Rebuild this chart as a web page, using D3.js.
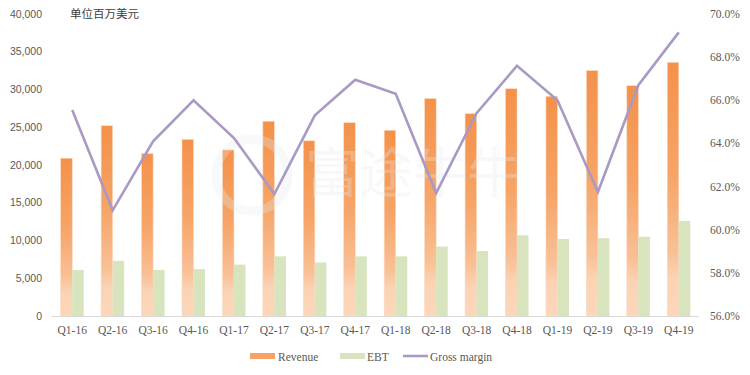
<!DOCTYPE html>
<html><head><meta charset="utf-8">
<script src="https://cdn.jsdelivr.net/npm/d3@7"></script>
<style>body{margin:0;background:#fff}svg{display:block}</style>
</head><body><svg id="c" width="750" height="375"></svg>
<script>
const categories = ["Q1-16","Q2-16","Q3-16","Q4-16","Q1-17","Q2-17","Q3-17","Q4-17","Q1-18","Q2-18","Q3-18","Q4-18","Q1-19","Q2-19","Q3-19","Q4-19"];
const revenue = [20900,25200,21500,23400,22000,25800,23200,25600,24600,28800,26800,30100,29100,32500,30500,33600];
const ebt = [6100,7300,6100,6200,6800,7900,7100,7900,7900,9200,8600,10700,10200,10300,10500,12600];
const grossMargin = [0.6555,0.609,0.641,0.660,0.6425,0.6165,0.653,0.6695,0.663,0.617,0.654,0.676,0.660,0.6175,0.667,0.6915];
const leftTicks = [0,5000,10000,15000,20000,25000,30000,35000,40000];
const rightTicks = [0.56,0.58,0.60,0.62,0.64,0.66,0.68,0.70];
const seriesNames = ["Revenue","EBT","Gross margin"];
const unitLabel = "单位百万美元";

const svg = d3.select("#c");
const L = 52, R = 699, T = 14, B = 316;
const x = d3.scaleBand().domain(categories).range([L, R]).paddingInner(0.43).paddingOuter(0.215);
const xs = d3.scaleBand().domain(["rev","ebt"]).range([0, x.bandwidth()]);
const y = d3.scaleLinear().domain([0, 40000]).range([B, T]);
const y2 = d3.scaleLinear().domain([0.56, 0.70]).range([B, T]);

const defs = svg.append("defs");
const g = defs.append("linearGradient").attr("id","revGrad").attr("x1",0).attr("y1",0).attr("x2",0).attr("y2",1);
g.append("stop").attr("offset","0%").attr("stop-color","#F4914A");
g.append("stop").attr("offset","45%").attr("stop-color","#F6A568");
g.append("stop").attr("offset","75%").attr("stop-color","#F9C096");
g.append("stop").attr("offset","85%").attr("stop-color","#FBD3B4");
g.append("stop").attr("offset","100%").attr("stop-color","#FBD7BB");

// baseline
svg.append("line").attr("x1",L).attr("x2",R).attr("y1",B+0.5).attr("y2",B+0.5).attr("stroke","#D9D9D9").attr("stroke-width",1);

// bars
svg.append("g").selectAll("rect").data(categories).join("rect")
  .attr("x", d => x(d) + xs("rev")).attr("width", xs.bandwidth())
  .attr("y", (d,i) => y(revenue[i])).attr("height", (d,i) => B - y(revenue[i]))
  .attr("fill","url(#revGrad)").attr("stroke","#FBD9BE").attr("stroke-width",0.6);
svg.append("g").selectAll("rect").data(categories).join("rect")
  .attr("x", d => x(d) + xs("ebt")).attr("width", xs.bandwidth())
  .attr("y", (d,i) => y(ebt[i])).attr("height", (d,i) => B - y(ebt[i]))
  .attr("fill","#D7E4BD");

// watermark
const wm = svg.append("g").attr("opacity",0.3);
wm.append("circle").attr("cx",252).attr("cy",175).attr("r",36).attr("fill","none").attr("stroke","#E6EAF0").attr("stroke-width",9);
wm.append("text").attr("x",305).attr("y",193).style("font-family","'Noto Sans CJK SC'").style("font-size","54px").attr("fill","#E6EAF0").text("富途牛牛");

// line
const line = d3.line().x((d,i) => x(categories[i]) + x.bandwidth()/2).y(d => y2(d));
svg.append("path").datum(grossMargin).attr("d", line).attr("fill","none").attr("stroke","#A999C4").attr("stroke-width",2.6).attr("stroke-linejoin","miter");

// left axis labels
svg.append("g").selectAll("text").data(leftTicks).join("text")
  .attr("x",42).attr("y", d => y(d)).attr("dy","0.35em").attr("text-anchor","end")
  .attr("font-family","Liberation Sans, Arial, sans-serif").attr("font-size",10.5).attr("fill","#595959")
  .text(d => d3.format(",")(d));
// right axis labels
svg.append("g").selectAll("text").data(rightTicks).join("text")
  .attr("x",710).attr("y", d => y2(d)).attr("dy","0.35em").attr("text-anchor","start")
  .attr("font-family","Liberation Serif, serif").attr("font-size",11.5).attr("fill","#595959")
  .text(d => d3.format(".1%")(d));
// x labels
svg.append("g").selectAll("text").data(categories).join("text")
  .attr("x", d => x(d) + x.bandwidth()/2).attr("y", 334).attr("text-anchor","middle")
  .attr("font-family","Liberation Serif, serif").attr("font-size",11.5).attr("fill","#595959")
  .text(d => d);

// unit title
svg.append("text").attr("x",70).attr("y",18).attr("font-family","Noto Sans CJK SC").attr("font-size",11.5).attr("fill","#404040").text(unitLabel);

// legend
const lg = svg.append("g").attr("font-family","Liberation Serif, serif").attr("font-size",11.5).attr("fill","#595959");
lg.append("rect").attr("x",250).attr("y",353).attr("width",25).attr("height",6).attr("fill","#F6A366");
lg.append("text").attr("x",278).attr("y",361).text(seriesNames[0]);
lg.append("rect").attr("x",340).attr("y",353).attr("width",25).attr("height",6).attr("fill","#D7E4BD");
lg.append("text").attr("x",367).attr("y",361).text(seriesNames[1]);
lg.append("line").attr("x1",403).attr("x2",428).attr("y1",356).attr("y2",356).attr("stroke","#A999C4").attr("stroke-width",2.6);
lg.append("text").attr("x",430).attr("y",361).text(seriesNames[2]);
</script></body></html>
